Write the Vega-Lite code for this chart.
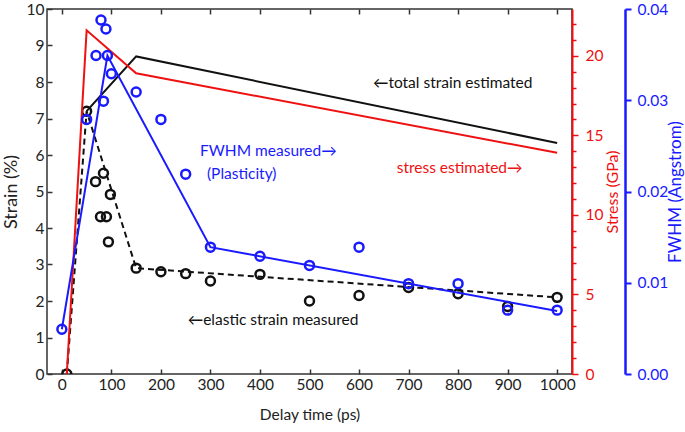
{
  "$schema": "https://vega.github.io/schema/vega-lite/v6.json",
  "autosize": {"type": "none"},
  "width": 525,
  "height": 365,
  "padding": {"left": 47, "top": 9, "right": 113, "bottom": 58},
  "config": {
    "view": {"stroke": "#333333", "strokeWidth": 1.5},
    "font": "Lato",
    "axis": {
      "labelFont": "Lato", "titleFont": "Lato",
      "labelFontSize": 15.5, "titleFontSize": 15,
      "titleFontWeight": "normal", "grid": false,
      "labelColor": "#222222", "titleColor": "#222222",
      "tickColor": "#333333", "tickWidth": 1.5
    }
  },
  "datasets": {
    "elastic": [
      {"t": 10, "strain": 0}, {"t": 50, "strain": 7.2}, {"t": 68, "strain": 5.27},
      {"t": 78, "strain": 4.31}, {"t": 84, "strain": 5.5}, {"t": 90, "strain": 4.31},
      {"t": 94, "strain": 3.62}, {"t": 98, "strain": 4.92}, {"t": 150, "strain": 2.9},
      {"t": 200, "strain": 2.8}, {"t": 250, "strain": 2.75}, {"t": 300, "strain": 2.55},
      {"t": 400, "strain": 2.73}, {"t": 500, "strain": 2.0}, {"t": 600, "strain": 2.15},
      {"t": 700, "strain": 2.37}, {"t": 800, "strain": 2.2}, {"t": 900, "strain": 1.85},
      {"t": 1000, "strain": 2.1}
    ],
    "elasticFit": [
      {"t": 10, "strain": 0}, {"t": 50, "strain": 7.2}, {"t": 150, "strain": 2.9}, {"t": 1000, "strain": 2.1}
    ],
    "total": [
      {"t": 50, "strain": 7.2}, {"t": 150, "strain": 8.7}, {"t": 1000, "strain": 6.33}
    ],
    "stress": [
      {"t": 10, "stress": 0}, {"t": 50, "stress": 21.6}, {"t": 150, "stress": 18.9}, {"t": 1000, "stress": 13.9}
    ],
    "fwhm": [
      {"t": 0, "fwhm": 0.0049}, {"t": 50, "fwhm": 0.0279}, {"t": 69, "fwhm": 0.0349},
      {"t": 79, "fwhm": 0.0388}, {"t": 84, "fwhm": 0.0299}, {"t": 89, "fwhm": 0.0378},
      {"t": 92, "fwhm": 0.0349}, {"t": 100, "fwhm": 0.0329}, {"t": 150, "fwhm": 0.0309},
      {"t": 200, "fwhm": 0.0279}, {"t": 250, "fwhm": 0.0219}, {"t": 300, "fwhm": 0.0139},
      {"t": 400, "fwhm": 0.0129}, {"t": 500, "fwhm": 0.0119}, {"t": 600, "fwhm": 0.0139},
      {"t": 700, "fwhm": 0.0099}, {"t": 800, "fwhm": 0.0099}, {"t": 900, "fwhm": 0.007},
      {"t": 1000, "fwhm": 0.007}
    ],
    "fwhmFit": [
      {"t": 0, "fwhm": 0.0049}, {"t": 92, "fwhm": 0.0349}, {"t": 300, "fwhm": 0.0139}, {"t": 1000, "fwhm": 0.0069}
    ],
    "notes": [
      {"t": 628, "strain": 7.96, "g": "strain", "label": "←total strain estimated"},
      {"t": 279, "strain": 6.1, "g": "fwhm", "label": "FWHM measured→"},
      {"t": 293, "strain": 5.48, "g": "fwhm", "label": "(Plasticity)"},
      {"t": 676, "strain": 5.64, "g": "stress", "label": "stress estimated→"},
      {"t": 254, "strain": 1.47, "g": "strain", "label": "←elastic strain measured"}
    ]
  },
  "layer": [
    {
      "data": {"name": "elasticFit"},
      "mark": {"type": "line", "color": "#111111", "strokeWidth": 2, "strokeDash": [6, 4]},
      "encoding": {
        "x": {"field": "t", "type": "quantitative", "scale": {"domain": [-30, 1030], "nice": false}, "axis": null},
        "y": {"field": "strain", "type": "quantitative", "scale": {"domain": [0, 10], "nice": false}, "axis": null}
      }
    },
    {
      "data": {"name": "total"},
      "mark": {"type": "line", "color": "#111111", "strokeWidth": 2},
      "encoding": {
        "x": {"field": "t", "type": "quantitative", "scale": {"domain": [-30, 1030], "nice": false}, "axis": null},
        "y": {"field": "strain", "type": "quantitative", "scale": {"domain": [0, 10], "nice": false}, "axis": null}
      }
    },
    {
      "data": {"name": "elastic"},
      "mark": {"type": "point", "shape": "circle", "filled": false, "color": "#111111", "opacity": 1, "strokeWidth": 2.5, "size": 80, "clip": true},
      "encoding": {
        "x": {"field": "t", "type": "quantitative", "scale": {"domain": [-30, 1030], "nice": false},
              "axis": {"orient": "bottom", "title": "Delay time (ps)", "values": [0, 100, 200, 300, 400, 500, 600, 700, 800, 900, 1000], "format": "d",
                       "domain": false, "tickSize": -5, "labelPadding": 8, "titleX": 262.5, "titleY": 40, "titleBaseline": "middle", "titleFontSize": 15.5}},
        "y": {"field": "strain", "type": "quantitative", "scale": {"domain": [0, 10], "nice": false},
              "axis": {"orient": "left", "title": "Strain (%)", "values": [0, 1, 2, 3, 4, 5, 6, 7, 8, 9, 10],
                       "domain": false, "tickSize": -5, "labelPadding": 8, "titleX": -36, "titleY": 182.5, "titleBaseline": "middle", "titleAngle": -90, "titleFontSize": 18}}
      }
    },
    {
      "data": {"name": "stress"},
      "mark": {"type": "line", "color": "#ee1111", "strokeWidth": 2},
      "encoding": {
        "x": {"field": "t", "type": "quantitative", "scale": {"domain": [-30, 1030], "nice": false}, "axis": null},
        "y": {"field": "stress", "type": "quantitative", "scale": {"domain": [0, 22.94], "nice": false},
              "axis": {"orient": "right", "title": "Stress (GPa)",
                       "values": [0, 1, 2, 3, 4, 5, 6, 7, 8, 9, 10, 11, 12, 13, 14, 15, 16, 17, 18, 19, 20, 21, 22],
                       "labelExpr": "datum.value % 5 === 0 ? datum.label : ''",
                       "tickSize": {"condition": {"test": "datum.value % 5 === 0", "value": 6}, "value": 4},
                       "domainColor": "#ee1111", "domainWidth": 2, "tickColor": "#ee1111", "tickWidth": 1.5,
                       "labelColor": "#ee1111", "titleColor": "#ee1111", "labelPadding": 7, "titleFontSize": 16,
                       "titleX": 40, "titleY": 182.5, "titleAngle": -90, "titleBaseline": "middle"}}
      }
    },
    {
      "data": {"name": "fwhmFit"},
      "mark": {"type": "line", "color": "#1a1aff", "strokeWidth": 2},
      "encoding": {
        "x": {"field": "t", "type": "quantitative", "scale": {"domain": [-30, 1030], "nice": false}, "axis": null},
        "y": {"field": "fwhm", "type": "quantitative", "scale": {"domain": [0, 0.04], "nice": false},
              "axis": {"orient": "right", "offset": 53, "title": "FWHM (Angstrom)", "values": [0, 0.01, 0.02, 0.03, 0.04], "format": ".2f",
                       "domainColor": "#1a1aff", "domainWidth": 2.5, "tickColor": "#1a1aff", "tickWidth": 2, "tickSize": 6,
                       "labelColor": "#1a1aff", "titleColor": "#1a1aff", "labelPadding": 6, "titleFontSize": 17,
                       "titleX": 50, "titleY": 182.5, "titleAngle": -90, "titleBaseline": "middle"}}
      }
    },
    {
      "data": {"name": "fwhm"},
      "mark": {"type": "point", "shape": "circle", "filled": false, "color": "#1a1aff", "opacity": 1, "strokeWidth": 2.5, "size": 80, "clip": true},
      "encoding": {
        "x": {"field": "t", "type": "quantitative", "scale": {"domain": [-30, 1030], "nice": false}, "axis": null},
        "y": {"field": "fwhm", "type": "quantitative", "scale": {"domain": [0, 0.04], "nice": false}, "axis": null}
      }
    },
    {
      "data": {"name": "notes"},
      "mark": {"type": "text", "align": "left", "baseline": "middle", "font": "Lato", "fontSize": 15.5},
      "encoding": {
        "x": {"field": "t", "type": "quantitative", "scale": {"domain": [-30, 1030], "nice": false},
              "axis": {"orient": "top", "values": [0, 100, 200, 300, 400, 500, 600, 700, 800, 900, 1000], "labels": false, "domain": false, "tickSize": -5, "title": null}},
        "y": {"field": "strain", "type": "quantitative", "scale": {"domain": [0, 10], "nice": false}, "axis": null},
        "text": {"field": "label"},
        "color": {"field": "g", "type": "nominal", "scale": {"domain": ["strain", "fwhm", "stress"], "range": ["#111111", "#1a1aff", "#ee1111"]}, "legend": null}
      }
    }
  ],
  "resolve": {"scale": {"y": "independent"}, "axis": {"x": "independent"}}
}
